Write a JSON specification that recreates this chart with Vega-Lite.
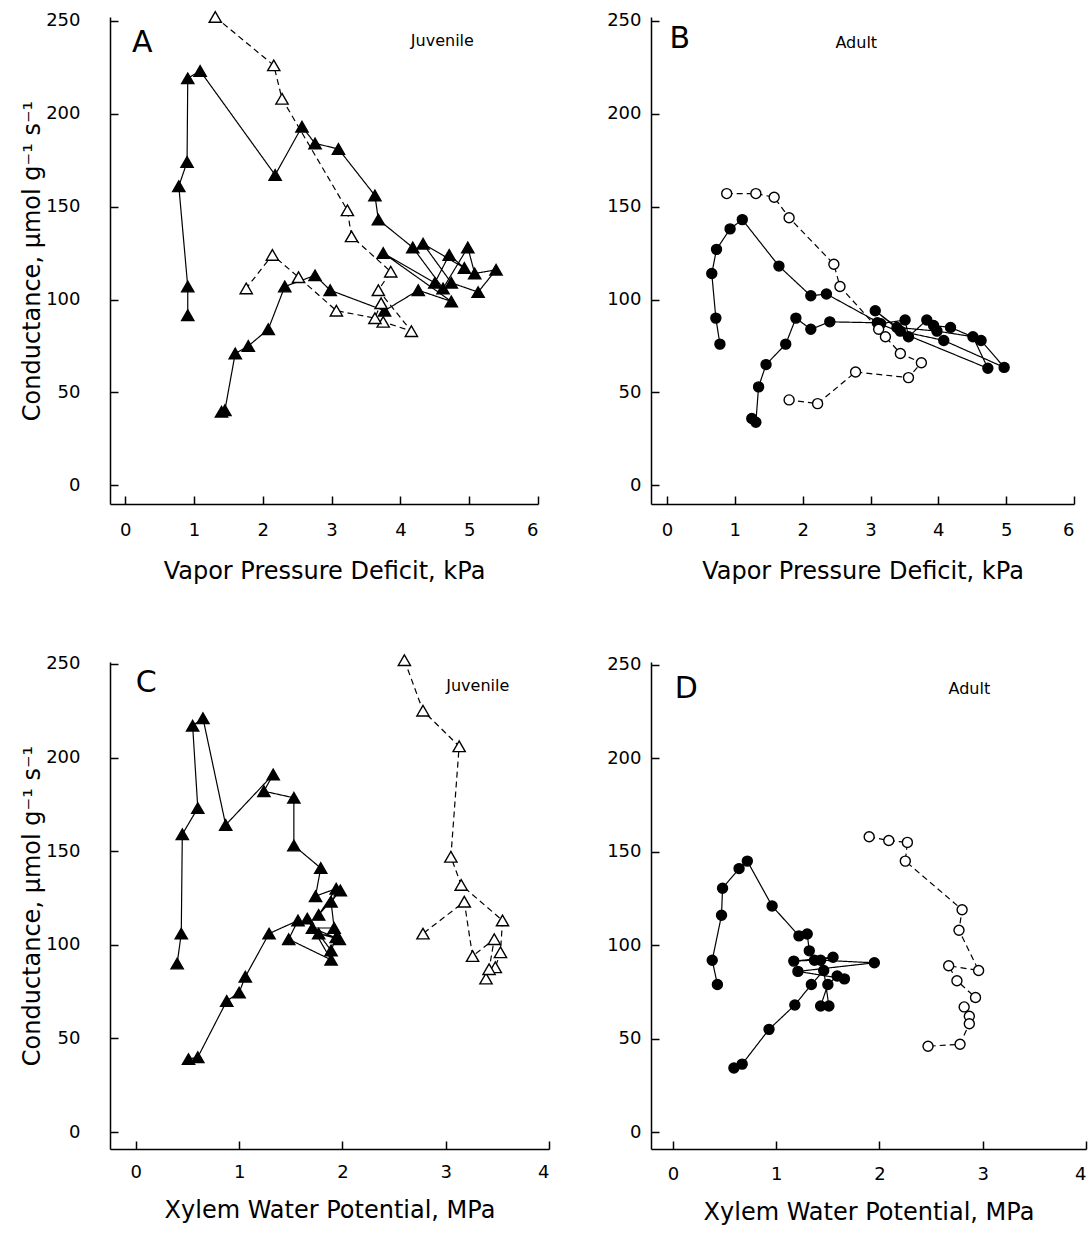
{
  "$schema": "https://vega.github.io/schema/vega-lite/v6.json",
  "autosize": {"type": "pad"},
  "padding": {"left": 20, "top": 8, "right": 4, "bottom": 5},
  "background": "white",
  "config": {
    "view": {"stroke": null},
    "font": "DejaVu Sans",
    "axis": {
      "grid": false,
      "domainColor": "black",
      "domainWidth": 1.5,
      "tickColor": "black",
      "tickWidth": 1.5,
      "tickSize": -8,
      "labelColor": "black",
      "titleColor": "black",
      "labelFont": "DejaVu Sans",
      "titleFont": "DejaVu Sans",
      "labelFontSize": 18,
      "titleFontSize": 24,
      "titleFontWeight": "normal",
      "labelFontWeight": "normal"
    },
    "text": {"font": "DejaVu Sans", "color": "black"}
  },
  "datasets": {
    "A": [
      {"s": "F", "i": 1, "x": 0.91, "y": 91.6}, {"s": "F", "i": 2, "x": 0.91, "y": 107}, {"s": "F", "i": 3, "x": 0.78, "y": 161},
      {"s": "F", "i": 4, "x": 0.9, "y": 174}, {"s": "F", "i": 5, "x": 0.91, "y": 219}, {"s": "F", "i": 6, "x": 1.09, "y": 223},
      {"s": "F", "i": 7, "x": 2.18, "y": 167}, {"s": "F", "i": 8, "x": 2.57, "y": 193}, {"s": "F", "i": 9, "x": 2.76, "y": 184},
      {"s": "F", "i": 10, "x": 3.1, "y": 181}, {"s": "F", "i": 11, "x": 3.63, "y": 156}, {"s": "F", "i": 12, "x": 3.68, "y": 143},
      {"s": "F", "i": 13, "x": 4.18, "y": 128}, {"s": "F", "i": 14, "x": 4.62, "y": 106}, {"s": "F", "i": 15, "x": 4.98, "y": 128},
      {"s": "F", "i": 16, "x": 5.08, "y": 114}, {"s": "F", "i": 17, "x": 5.39, "y": 116}, {"s": "F", "i": 18, "x": 5.13, "y": 104},
      {"s": "F", "i": 19, "x": 4.74, "y": 109}, {"s": "F", "i": 20, "x": 4.33, "y": 130}, {"s": "F", "i": 21, "x": 4.93, "y": 117},
      {"s": "F", "i": 22, "x": 4.71, "y": 124}, {"s": "F", "i": 23, "x": 4.5, "y": 109}, {"s": "F", "i": 24, "x": 3.75, "y": 125},
      {"s": "F", "i": 25, "x": 4.74, "y": 99}, {"s": "F", "i": 26, "x": 4.26, "y": 105}, {"s": "F", "i": 27, "x": 3.77, "y": 94},
      {"s": "F", "i": 28, "x": 2.98, "y": 105}, {"s": "F", "i": 29, "x": 2.76, "y": 113}, {"s": "F", "i": 30, "x": 2.32, "y": 107},
      {"s": "F", "i": 31, "x": 2.08, "y": 84}, {"s": "F", "i": 32, "x": 1.79, "y": 75}, {"s": "F", "i": 33, "x": 1.6, "y": 71},
      {"s": "F", "i": 34, "x": 1.45, "y": 40.5}, {"s": "F", "i": 35, "x": 1.4, "y": 39.6},
      {"s": "O", "i": 1, "x": 1.31, "y": 252}, {"s": "O", "i": 2, "x": 2.16, "y": 226}, {"s": "O", "i": 3, "x": 2.28, "y": 208},
      {"s": "O", "i": 4, "x": 3.23, "y": 148}, {"s": "O", "i": 5, "x": 3.29, "y": 134}, {"s": "O", "i": 6, "x": 3.86, "y": 115},
      {"s": "O", "i": 7, "x": 3.68, "y": 105}, {"s": "O", "i": 8, "x": 4.16, "y": 83}, {"s": "O", "i": 9, "x": 3.75, "y": 88},
      {"s": "O", "i": 10, "x": 3.72, "y": 98}, {"s": "O", "i": 11, "x": 3.63, "y": 90}, {"s": "O", "i": 12, "x": 3.07, "y": 94},
      {"s": "O", "i": 13, "x": 2.52, "y": 112}, {"s": "O", "i": 14, "x": 2.14, "y": 124}, {"s": "O", "i": 15, "x": 1.76, "y": 106}
    ],
    "B": [
      {"s": "F", "i": 1, "x": 0.78, "y": 76}, {"s": "F", "i": 2, "x": 0.72, "y": 90}, {"s": "F", "i": 3, "x": 0.66, "y": 114},
      {"s": "F", "i": 4, "x": 0.73, "y": 127}, {"s": "F", "i": 5, "x": 0.93, "y": 138}, {"s": "F", "i": 6, "x": 1.11, "y": 143},
      {"s": "F", "i": 7, "x": 1.65, "y": 118}, {"s": "F", "i": 8, "x": 2.12, "y": 102}, {"s": "F", "i": 9, "x": 2.35, "y": 103},
      {"s": "F", "i": 10, "x": 3.15, "y": 87}, {"s": "F", "i": 11, "x": 3.51, "y": 89}, {"s": "F", "i": 12, "x": 3.56, "y": 80},
      {"s": "F", "i": 13, "x": 3.83, "y": 89}, {"s": "F", "i": 14, "x": 3.93, "y": 86}, {"s": "F", "i": 15, "x": 4.18, "y": 85},
      {"s": "F", "i": 16, "x": 4.63, "y": 78}, {"s": "F", "i": 17, "x": 4.97, "y": 63.5}, {"s": "F", "i": 18, "x": 4.08, "y": 78},
      {"s": "F", "i": 19, "x": 3.44, "y": 83}, {"s": "F", "i": 20, "x": 3.07, "y": 94}, {"s": "F", "i": 21, "x": 3.39, "y": 85},
      {"s": "F", "i": 22, "x": 3.98, "y": 83}, {"s": "F", "i": 23, "x": 4.51, "y": 80}, {"s": "F", "i": 24, "x": 4.73, "y": 63},
      {"s": "F", "i": 25, "x": 3.1, "y": 87.5}, {"s": "F", "i": 26, "x": 2.4, "y": 88}, {"s": "F", "i": 27, "x": 2.12, "y": 84},
      {"s": "F", "i": 28, "x": 1.9, "y": 90}, {"s": "F", "i": 29, "x": 1.75, "y": 76}, {"s": "F", "i": 30, "x": 1.46, "y": 65},
      {"s": "F", "i": 31, "x": 1.35, "y": 53}, {"s": "F", "i": 32, "x": 1.31, "y": 34}, {"s": "F", "i": 33, "x": 1.25, "y": 36},
      {"s": "O", "i": 1, "x": 0.88, "y": 157}, {"s": "O", "i": 2, "x": 1.31, "y": 157}, {"s": "O", "i": 3, "x": 1.58, "y": 155},
      {"s": "O", "i": 4, "x": 1.8, "y": 144}, {"s": "O", "i": 5, "x": 2.46, "y": 119}, {"s": "O", "i": 6, "x": 2.55, "y": 107},
      {"s": "O", "i": 7, "x": 3.12, "y": 84}, {"s": "O", "i": 8, "x": 3.22, "y": 80}, {"s": "O", "i": 9, "x": 3.44, "y": 71},
      {"s": "O", "i": 10, "x": 3.75, "y": 66}, {"s": "O", "i": 11, "x": 3.56, "y": 58}, {"s": "O", "i": 12, "x": 2.78, "y": 61},
      {"s": "O", "i": 13, "x": 2.22, "y": 44}, {"s": "O", "i": 14, "x": 1.8, "y": 46}
    ],
    "C": [
      {"s": "F", "i": 1, "x": 0.4, "y": 90}, {"s": "F", "i": 2, "x": 0.44, "y": 106}, {"s": "F", "i": 3, "x": 0.45, "y": 159},
      {"s": "F", "i": 4, "x": 0.6, "y": 173}, {"s": "F", "i": 5, "x": 0.55, "y": 217}, {"s": "F", "i": 6, "x": 0.65, "y": 221},
      {"s": "F", "i": 7, "x": 0.87, "y": 164}, {"s": "F", "i": 8, "x": 1.33, "y": 191}, {"s": "F", "i": 9, "x": 1.24, "y": 182},
      {"s": "F", "i": 10, "x": 1.53, "y": 178.5}, {"s": "F", "i": 11, "x": 1.53, "y": 153}, {"s": "F", "i": 12, "x": 1.79, "y": 141},
      {"s": "F", "i": 13, "x": 1.74, "y": 126}, {"s": "F", "i": 14, "x": 1.94, "y": 130}, {"s": "F", "i": 15, "x": 1.77, "y": 116},
      {"s": "F", "i": 16, "x": 1.98, "y": 129}, {"s": "F", "i": 17, "x": 1.89, "y": 123}, {"s": "F", "i": 18, "x": 1.92, "y": 109},
      {"s": "F", "i": 19, "x": 1.71, "y": 109}, {"s": "F", "i": 20, "x": 1.97, "y": 103}, {"s": "F", "i": 21, "x": 1.77, "y": 106},
      {"s": "F", "i": 22, "x": 1.94, "y": 104}, {"s": "F", "i": 23, "x": 1.89, "y": 97}, {"s": "F", "i": 24, "x": 1.66, "y": 114},
      {"s": "F", "i": 25, "x": 1.89, "y": 92}, {"s": "F", "i": 26, "x": 1.48, "y": 103}, {"s": "F", "i": 27, "x": 1.57, "y": 113},
      {"s": "F", "i": 28, "x": 1.29, "y": 106}, {"s": "F", "i": 29, "x": 1.06, "y": 83}, {"s": "F", "i": 30, "x": 1.0, "y": 74.5},
      {"s": "F", "i": 31, "x": 0.88, "y": 70}, {"s": "F", "i": 32, "x": 0.6, "y": 40}, {"s": "F", "i": 33, "x": 0.51, "y": 39},
      {"s": "O", "i": 1, "x": 2.6, "y": 252}, {"s": "O", "i": 2, "x": 2.78, "y": 225}, {"s": "O", "i": 3, "x": 3.13, "y": 206},
      {"s": "O", "i": 4, "x": 3.05, "y": 147}, {"s": "O", "i": 5, "x": 3.15, "y": 132}, {"s": "O", "i": 6, "x": 3.55, "y": 113},
      {"s": "O", "i": 7, "x": 3.53, "y": 96}, {"s": "O", "i": 8, "x": 3.48, "y": 88}, {"s": "O", "i": 9, "x": 3.39, "y": 82},
      {"s": "O", "i": 10, "x": 3.42, "y": 87}, {"s": "O", "i": 11, "x": 3.47, "y": 103}, {"s": "O", "i": 12, "x": 3.26, "y": 94},
      {"s": "O", "i": 13, "x": 3.18, "y": 123}, {"s": "O", "i": 14, "x": 2.78, "y": 106}
    ],
    "D": [
      {"s": "F", "i": 1, "x": 0.43, "y": 79}, {"s": "F", "i": 2, "x": 0.38, "y": 92}, {"s": "F", "i": 3, "x": 0.47, "y": 116},
      {"s": "F", "i": 4, "x": 0.48, "y": 130.5}, {"s": "F", "i": 5, "x": 0.64, "y": 141}, {"s": "F", "i": 6, "x": 0.72, "y": 145},
      {"s": "F", "i": 7, "x": 0.96, "y": 121}, {"s": "F", "i": 8, "x": 1.22, "y": 105}, {"s": "F", "i": 9, "x": 1.3, "y": 106},
      {"s": "F", "i": 10, "x": 1.32, "y": 97}, {"s": "F", "i": 11, "x": 1.37, "y": 92}, {"s": "F", "i": 12, "x": 1.17, "y": 91.5},
      {"s": "F", "i": 13, "x": 1.55, "y": 93.6}, {"s": "F", "i": 14, "x": 1.43, "y": 92}, {"s": "F", "i": 15, "x": 1.95, "y": 90.6},
      {"s": "F", "i": 16, "x": 1.21, "y": 86}, {"s": "F", "i": 17, "x": 1.66, "y": 82}, {"s": "F", "i": 18, "x": 1.59, "y": 83.5},
      {"s": "F", "i": 19, "x": 1.5, "y": 79}, {"s": "F", "i": 20, "x": 1.43, "y": 67.5}, {"s": "F", "i": 21, "x": 1.51, "y": 67.5},
      {"s": "F", "i": 22, "x": 1.46, "y": 86.5}, {"s": "F", "i": 23, "x": 1.34, "y": 79}, {"s": "F", "i": 24, "x": 1.18, "y": 68},
      {"s": "F", "i": 25, "x": 0.93, "y": 55}, {"s": "F", "i": 26, "x": 0.67, "y": 36.4}, {"s": "F", "i": 27, "x": 0.59, "y": 34.3},
      {"s": "O", "i": 1, "x": 1.9, "y": 158}, {"s": "O", "i": 2, "x": 2.09, "y": 156}, {"s": "O", "i": 3, "x": 2.27, "y": 155},
      {"s": "O", "i": 4, "x": 2.25, "y": 145}, {"s": "O", "i": 5, "x": 2.8, "y": 119}, {"s": "O", "i": 6, "x": 2.77, "y": 108},
      {"s": "O", "i": 7, "x": 2.96, "y": 86.5}, {"s": "O", "i": 8, "x": 2.67, "y": 89}, {"s": "O", "i": 9, "x": 2.75, "y": 81},
      {"s": "O", "i": 10, "x": 2.93, "y": 72}, {"s": "O", "i": 11, "x": 2.82, "y": 67}, {"s": "O", "i": 12, "x": 2.87, "y": 62},
      {"s": "O", "i": 13, "x": 2.87, "y": 58}, {"s": "O", "i": 14, "x": 2.78, "y": 47}, {"s": "O", "i": 15, "x": 2.47, "y": 46}
    ]
  },
  "columns": 2,
  "bounds": "flush",
  "spacing": {"row": 158, "column": 102},
  "concat": [
    {
      "width": 428, "height": 487,
      "data": {"name": "A"},
      "encoding": {
        "x": {"field": "x", "type": "quantitative", "scale": {"domain": [-0.22, 6], "nice": false, "zero": false},
              "axis": {"title": "Vapor Pressure Deficit, kPa", "values": [0, 1, 2, 3, 4, 5, 6], "labelPadding": 25, "titlePadding": 20}},
        "y": {"field": "y", "type": "quantitative", "scale": {"domain": [-10, 252], "nice": false, "zero": false},
              "axis": {"title": "Conductance, μmol g⁻¹ s⁻¹", "values": [0, 50, 100, 150, 200, 250], "labelPadding": 38, "titleX": -66}}
      },
      "layer": [
        {"mark": {"type": "line", "color": "black", "strokeWidth": 1.2},
         "encoding": {"detail": {"field": "s"}, "order": {"field": "i", "type": "quantitative"},
                      "strokeDash": {"field": "s", "type": "nominal", "scale": {"domain": ["F", "O"], "range": [[1, 0], [6, 4]]}, "legend": null}}},
        {"mark": {"type": "point", "shape": "triangle-up", "filled": true, "size": 150, "opacity": 1, "stroke": "black", "strokeWidth": 1.4},
         "encoding": {"fill": {"field": "s", "type": "nominal", "scale": {"domain": ["F", "O"], "range": ["black", "white"]}, "legend": null}}},
        {"transform": [{"filter": "datum.s == 'F' && datum.i == 1"}],
         "mark": {"type": "text", "text": "A", "fontSize": 30, "align": "center", "baseline": "middle"},
         "encoding": {"x": {"datum": 0.25}, "y": {"datum": 238}}},
        {"transform": [{"filter": "datum.s == 'F' && datum.i == 1"}],
         "mark": {"type": "text", "text": "Juvenile", "fontSize": 16, "align": "center", "baseline": "middle"},
         "encoding": {"x": {"datum": 4.61}, "y": {"datum": 239}}}
      ]
    },
    {
      "width": 423, "height": 487,
      "data": {"name": "B"},
      "encoding": {
        "x": {"field": "x", "type": "quantitative", "scale": {"domain": [-0.236, 6], "nice": false, "zero": false},
              "axis": {"title": "Vapor Pressure Deficit, kPa", "values": [0, 1, 2, 3, 4, 5, 6], "labelPadding": 25, "titlePadding": 20}},
        "y": {"field": "y", "type": "quantitative", "scale": {"domain": [-10, 252], "nice": false, "zero": false},
              "axis": {"title": null, "values": [0, 50, 100, 150, 200, 250], "labelPadding": 18}}
      },
      "layer": [
        {"mark": {"type": "line", "color": "black", "strokeWidth": 1.2},
         "encoding": {"detail": {"field": "s"}, "order": {"field": "i", "type": "quantitative"},
                      "strokeDash": {"field": "s", "type": "nominal", "scale": {"domain": ["F", "O"], "range": [[1, 0], [6, 4]]}, "legend": null}}},
        {"mark": {"type": "point", "shape": "circle", "filled": true, "size": 100, "opacity": 1, "stroke": "black", "strokeWidth": 1.4},
         "encoding": {"fill": {"field": "s", "type": "nominal", "scale": {"domain": ["F", "O"], "range": ["black", "white"]}, "legend": null}}},
        {"transform": [{"filter": "datum.s == 'F' && datum.i == 1"}],
         "mark": {"type": "text", "text": "B", "fontSize": 30, "align": "center", "baseline": "middle"},
         "encoding": {"x": {"datum": 0.19}, "y": {"datum": 240}}},
        {"transform": [{"filter": "datum.s == 'F' && datum.i == 1"}],
         "mark": {"type": "text", "text": "Adult", "fontSize": 16, "align": "center", "baseline": "middle"},
         "encoding": {"x": {"datum": 2.79}, "y": {"datum": 238}}}
      ]
    },
    {
      "width": 439, "height": 487,
      "data": {"name": "C"},
      "encoding": {
        "x": {"field": "x", "type": "quantitative", "scale": {"domain": [-0.25, 4], "nice": false, "zero": false},
              "axis": {"title": "Xylem Water Potential, MPa", "values": [0, 1, 2, 3, 4], "labelPadding": 22, "titlePadding": 17}},
        "y": {"field": "y", "type": "quantitative", "scale": {"domain": [-9, 251], "nice": false, "zero": false},
              "axis": {"title": "Conductance, μmol g⁻¹ s⁻¹", "values": [0, 50, 100, 150, 200, 250], "labelPadding": 38, "titleX": -66}}
      },
      "layer": [
        {"mark": {"type": "line", "color": "black", "strokeWidth": 1.2},
         "encoding": {"detail": {"field": "s"}, "order": {"field": "i", "type": "quantitative"},
                      "strokeDash": {"field": "s", "type": "nominal", "scale": {"domain": ["F", "O"], "range": [[1, 0], [6, 4]]}, "legend": null}}},
        {"mark": {"type": "point", "shape": "triangle-up", "filled": true, "size": 150, "opacity": 1, "stroke": "black", "strokeWidth": 1.4},
         "encoding": {"fill": {"field": "s", "type": "nominal", "scale": {"domain": ["F", "O"], "range": ["black", "white"]}, "legend": null}}},
        {"transform": [{"filter": "datum.s == 'F' && datum.i == 1"}],
         "mark": {"type": "text", "text": "C", "fontSize": 30, "align": "center", "baseline": "middle"},
         "encoding": {"x": {"datum": 0.1}, "y": {"datum": 240}}},
        {"transform": [{"filter": "datum.s == 'F' && datum.i == 1"}],
         "mark": {"type": "text", "text": "Juvenile", "fontSize": 16, "align": "center", "baseline": "middle"},
         "encoding": {"x": {"datum": 3.31}, "y": {"datum": 238}}}
      ]
    },
    {
      "width": 435, "height": 487,
      "data": {"name": "D"},
      "encoding": {
        "x": {"field": "x", "type": "quantitative", "scale": {"domain": [-0.213, 4], "nice": false, "zero": false},
              "axis": {"title": "Xylem Water Potential, MPa", "values": [0, 1, 2, 3, 4], "labelPadding": 24, "titlePadding": 17}},
        "y": {"field": "y", "type": "quantitative", "scale": {"domain": [-9, 251.5], "nice": false, "zero": false},
              "axis": {"title": null, "values": [0, 50, 100, 150, 200, 250], "labelPadding": 18}}
      },
      "layer": [
        {"mark": {"type": "line", "color": "black", "strokeWidth": 1.2},
         "encoding": {"detail": {"field": "s"}, "order": {"field": "i", "type": "quantitative"},
                      "strokeDash": {"field": "s", "type": "nominal", "scale": {"domain": ["F", "O"], "range": [[1, 0], [6, 4]]}, "legend": null}}},
        {"mark": {"type": "point", "shape": "circle", "filled": true, "size": 100, "opacity": 1, "stroke": "black", "strokeWidth": 1.4},
         "encoding": {"fill": {"field": "s", "type": "nominal", "scale": {"domain": ["F", "O"], "range": ["black", "white"]}, "legend": null}}},
        {"transform": [{"filter": "datum.s == 'F' && datum.i == 1"}],
         "mark": {"type": "text", "text": "D", "fontSize": 30, "align": "center", "baseline": "middle"},
         "encoding": {"x": {"datum": 0.13}, "y": {"datum": 237}}},
        {"transform": [{"filter": "datum.s == 'F' && datum.i == 1"}],
         "mark": {"type": "text", "text": "Adult", "fontSize": 16, "align": "center", "baseline": "middle"},
         "encoding": {"x": {"datum": 2.87}, "y": {"datum": 237}}}
      ]
    }
  ]
}
